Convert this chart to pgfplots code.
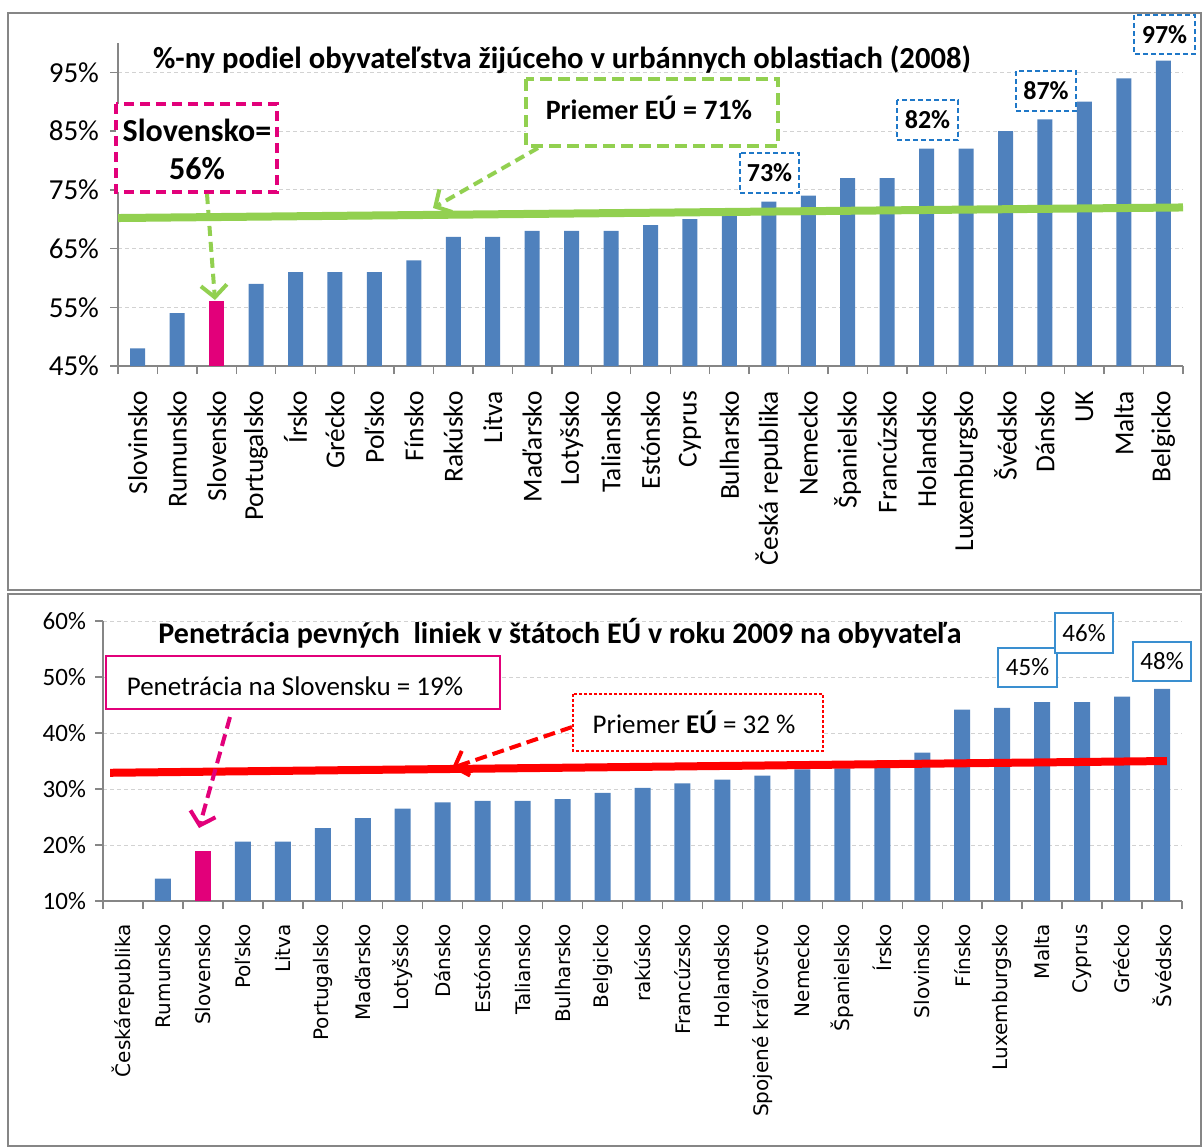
\documentclass[border=0pt]{standalone}
\usepackage{fontspec}
\setmainfont{Carlito}
\newfontfamily\djv{DejaVu Sans}
\usepackage{pgfplots}
\pgfplotsset{compat=1.18}
\usetikzlibrary{arrows.meta}
\definecolor{barblue}{RGB}{79,129,189}
\definecolor{magentaX}{RGB}{226,0,122}
\definecolor{greenX}{RGB}{146,208,80}
\definecolor{boxblue}{RGB}{31,120,200}
\definecolor{boxblue2}{RGB}{58,143,208}
\definecolor{framegray}{RGB}{134,134,134}
\definecolor{redX}{RGB}{255,0,0}

\begin{document}
\begin{tikzpicture}[x=0.5pt,y=-0.5pt]
\path[use as bounding box] (0,0) rectangle (1203,1147);
\draw[framegray, line width=1.2pt] (8,13) rectangle (1201,590);
\draw[framegray, line width=1.2pt] (8,594) rectangle (1201,1146);

% ---------------- TOP CHART ----------------
\begin{axis}[
  at={(59pt,-183pt)}, anchor=south west,
  scale only axis, width=532.5pt, height=161.5pt,
  xmin=-0.5, xmax=26.5, ymin=45, ymax=100,
  ybar, bar width=7.5pt, bar shift=0pt,
  axis lines*=left,
  axis line style={framegray, line width=0.7pt},
  tick style={framegray, line width=0.7pt},
  tick align=outside,
  major tick length=4pt,
  ytick={45,55,65,75,85,95},
  yticklabels={45\%,55\%,65\%,75\%,85\%,95\%},
  ymajorgrids,
  major grid style={gray!35, dash pattern=on 2pt off 1.5pt, line width=0.5pt},
  xtick={-0.5,0.5,...,26.5},
  xticklabels={},
  extra x ticks={0,1,...,26},
  extra x tick labels={Slovinsko,Rumunsko,Slovensko,Portugalsko,Írsko,Grécko,Poľsko,Fínsko,Rakúsko,Litva,Maďarsko,Lotyšsko,Taliansko,Estónsko,Cyprus,Bulharsko,Česká republika,Nemecko,Španielsko,Francúzsko,Holandsko,Luxemburgsko,Švédsko,Dánsko,UK,Malta,Belgicko},
  extra x tick style={major tick length=0pt},
  xticklabel shift=9pt,
  yticklabel shift=2pt,
  x tick label style={rotate=90, anchor=east, font=\fontsize{13.7}{14}\selectfont, black},
  y tick label style={font=\fontsize{14.5}{15}\selectfont, black},
]
\addplot[fill=barblue, draw=none] coordinates {
 (0,48) (1,54) (3,59) (4,61) (5,61) (6,61) (7,63) (8,67) (9,67) (10,68)
 (11,68) (12,68) (13,69) (14,70) (15,71) (16,73) (17,74) (18,77) (19,77)
 (20,82) (21,82) (22,85) (23,87) (24,90) (25,94) (26,97)};
\addplot[fill=magentaX, draw=none] coordinates {(2,56)};
\addplot[sharp plot, greenX, line width=4pt] coordinates {(-0.5,70.2) (26.5,72.0)};
\end{axis}

\node[font=\fontsize{15.3}{16}\selectfont\bfseries] at (562,60)
  {\%-ny podiel obyvateľstva žijúceho v urbánnych oblastiach (2008)};

\draw[magentaX, line width=1.6pt, dash pattern=on 5pt off 3pt, fill=white] (116,104) rectangle (277,192);
\node[font=\fontsize{16}{19}\selectfont\bfseries, align=center] at (197,149) {Slovensko=\\56\%};
\draw[greenX, line width=2pt, dash pattern=on 5pt off 3pt, -{Straight Barb[length=6pt,width=13pt]}] (207,194) -- (215,300);

\draw[greenX, line width=2pt, dash pattern=on 6pt off 3pt, fill=white] (526,79) rectangle (778,146);
\node[font=\fontsize{14}{15}\selectfont\bfseries] at (649,108) {Priemer EÚ = 71\%};
\draw[greenX, line width=2pt, dash pattern=on 5pt off 3pt, -{Straight Barb[length=6pt,width=13pt]}] (538,148) -- (433,208);

\foreach \xa/\ya/\xb/\yb/\t in {740/153/799/193/73, 897/100/958/140/82, 1016/71/1076/111/87, 1134/15/1195/54/97}{
  \draw[boxblue, line width=0.9pt, dash pattern=on 2.5pt off 1.5pt, fill=white] (\xa,\ya) rectangle (\xb,\yb);
  \node[font=\fontsize{13}{14}\selectfont\bfseries] at ({(\xa+\xb)/2},{(\ya+\yb)/2}) {\t\%};
}

% ---------------- BOTTOM CHART ----------------
\begin{axis}[
  at={(51.5pt,-450.5pt)}, anchor=south west,
  scale only axis, width=539.5pt, height=140pt,
  xmin=-0.5, xmax=26.5, ymin=10, ymax=60,
  ybar, bar width=8pt, bar shift=0pt,
  axis lines*=left,
  axis line style={framegray, line width=0.7pt},
  tick style={framegray, line width=0.7pt},
  tick align=outside,
  major tick length=4pt,
  ytick={10,20,30,40,50,60},
  yticklabels={10\%,20\%,30\%,40\%,50\%,60\%},
  ymajorgrids,
  major grid style={gray!35, dash pattern=on 2pt off 1.5pt, line width=0.5pt},
  xtick={-0.5,0.5,...,26.5},
  xticklabels={},
  extra x ticks={0,1,...,26},
  extra x tick labels={Českárepublika,Rumunsko,Slovensko,Poľsko,Litva,Portugalsko,Maďarsko,Lotyšsko,Dánsko,Estónsko,Taliansko,Bulharsko,Belgicko,rakúsko,Francúzsko,Holandsko,Spojené kráľovstvo,Nemecko,Španielsko,Írsko,Slovinsko,Fínsko,Luxemburgsko,Malta,Cyprus,Grécko,Švédsko},
  extra x tick style={major tick length=0pt},
  xticklabel shift=8pt,
  yticklabel shift=1pt,
  x tick label style={rotate=90, anchor=east, font=\djv\fontsize{10}{10}\selectfont, black},
  y tick label style={font=\fontsize{12.5}{13}\selectfont, black},
]
\addplot[fill=barblue, draw=none] coordinates {
 (1,14.0) (3,20.6) (4,20.6) (5,23.0) (6,24.8) (7,26.5) (8,27.6) (9,27.9)
 (10,27.9) (11,28.2) (12,29.3) (13,30.2) (14,31.0) (15,31.7) (16,32.4)
 (17,33.5) (18,33.7) (19,35.1) (20,36.5) (21,44.2) (22,44.5) (23,45.5)
 (24,45.5) (25,46.5) (26,47.9)};
\addplot[fill=magentaX, draw=none] coordinates {(2,18.9)};
\addplot[sharp plot, redX, line width=4pt] coordinates {(-0.32,32.9) (26.12,35.0)};
\end{axis}

\node[font=\fontsize{15}{16}\selectfont\bfseries] at (560,633)
  {Penetrácia pevných~~liniek v štátoch EÚ v roku 2009 na obyvateľa};

\draw[magentaX, line width=1.2pt, fill=white] (106,656) rectangle (500,709);
\node[font=\fontsize{13.5}{14}\selectfont] at (295,686) {Penetrácia na Slovensku = 19\%};
\draw[magentaX, line width=2pt, dash pattern=on 6pt off 3pt, -{Straight Barb[length=6pt,width=13pt]}] (230,717) -- (199,828);

\draw[redX, line width=0.6pt, dash pattern=on 1.5pt off 1pt, fill=white] (573,694) rectangle (823,751);
\node[font=\fontsize{13.5}{14}\selectfont] at (694,722) {Priemer \textbf{EÚ} = 32 \%};
\draw[redX, line width=2pt, dash pattern=on 6pt off 3pt, -{Straight Barb[length=6pt,width=13pt]}] (572,727) -- (452,768);

\foreach \xa/\ya/\xb/\yb/\t in {998/648/1057/687/45, 1055/613/1113/653/46, 1133/642/1191/681/48}{
  \draw[boxblue2, line width=0.8pt, fill=white] (\xa,\ya) rectangle (\xb,\yb);
  \node[font=\fontsize{12.5}{13}\selectfont] at ({(\xa+\xb)/2},{(\ya+\yb)/2}) {\t\%};
}
\end{tikzpicture}
\end{document}
